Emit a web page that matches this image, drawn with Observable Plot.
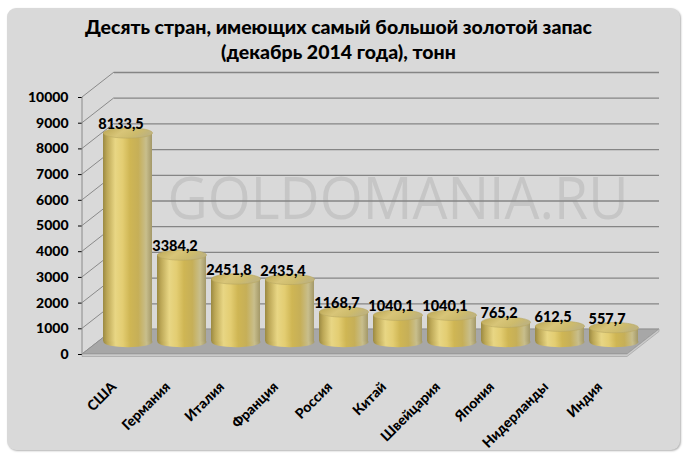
<!DOCTYPE html>
<html><head><meta charset="utf-8">
<script src="https://cdn.jsdelivr.net/npm/d3@7"></script>
<script src="https://cdn.jsdelivr.net/npm/@observablehq/plot@0.6"></script>
<style>
body{margin:0;background:#fff;}
#box{position:absolute;left:7px;top:8px;width:673px;height:442px;background:#d9d9d9;border-radius:9px;box-shadow:1px 1px 2px rgba(0,0,0,0.3);overflow:hidden;}
#title{height:57px;box-sizing:border-box;padding-top:6px;padding-right:10px;text-align:center;font:900 19.5px Lato, sans-serif;line-height:25px;color:#000;}
#chart svg{display:block;}
</style>
</head><body>
<div id="box"><div id="title"></div><div id="chart"></div></div>
<script>
const countries = ["США","Германия","Италия","Франция","Россия","Китай","Швейцария","Япония","Нидерланды","Индия"];
const reserves = [8133.5,3384.2,2451.8,2435.4,1168.7,1040.1,1040.1,765.2,612.5,557.7];
const yTicks = [0,1000,2000,3000,4000,5000,6000,7000,8000,9000,10000];
const titleLines = ["Десять стран, имеющих самый большой золотой запас","(декабрь 2014 года), тонн"];
const watermark = ["GOLDOMANIA.RU"];

document.getElementById("title").innerHTML = titleLines.map(t => `<div>${t}</div>`).join("");

const data = countries.map((c, i) => ({country: c, value: reserves[i]}));
const DX = 32, DY = -25;          // depth of the 3D box
const MX = DX / 2, MY = DY / 2;   // bars sit half way
const fmt = v => v.toFixed(1).replace(".", ",");
const FONT = "Lato, sans-serif";

function defsMark() {
  const g = d3.create("svg:g");
  const defs = g.append("defs");
  const body = defs.append("linearGradient").attr("id", "goldBody").attr("x1", 0).attr("x2", 1).attr("y1", 0).attr("y2", 0);
  [[0,"#9a8943"],[0.08,"#bca756"],[0.25,"#e8d684"],[0.4,"#e3cd72"],[0.55,"#cfb654"],[0.72,"#c6af58"],[0.88,"#c8be8c"],[1,"#a39868"]]
    .forEach(([o,c]) => body.append("stop").attr("offset", o).attr("stop-color", c));
  const top = defs.append("linearGradient").attr("id", "goldTop").attr("x1", 0).attr("x2", 1).attr("y1", 0).attr("y2", 0.3);
  [[0,"#b9a451"],[0.45,"#d8c578"],[0.75,"#cdbb6c"],[1,"#bfb37e"]]
    .forEach(([o,c]) => top.append("stop").attr("offset", o).attr("stop-color", c));
  return g.node();
}

function wallsMark(index, scales, values, dims) {
  const {marginLeft: ml, marginRight: mr, width} = dims;
  const x0 = ml, x1 = width - mr, y = scales.y;
  const g = d3.create("svg:g");
  for (const t of yTicks) {
    g.append("line").attr("x1", x0).attr("y1", y(t)).attr("x2", x0 + DX).attr("y2", y(t) + DY)
      .attr("stroke", "#8a8a8a").attr("stroke-width", 1);
  }
  g.append("line").attr("x1", x0).attr("x2", x0).attr("y1", y(0)).attr("y2", y(yTicks[yTicks.length - 1]))
    .attr("stroke", "#8a8a8a").attr("stroke-width", 1);
  const yb = y(0);
  g.append("path").attr("d", `M${x0},${yb}L${x1},${yb}L${x1+DX},${yb+DY}L${x0+DX},${yb+DY}Z`)
    .attr("fill", "#a7a7a7").attr("stroke", "#8c8c8c").attr("stroke-width", 0.8);
  g.append("path").attr("d", `M${x0},${yb}L${x1},${yb}L${x1+DX},${yb+DY}L${x1+DX},${yb+DY+2.5}L${x1},${yb+2.5}L${x0},${yb+2.5}Z`)
    .attr("fill", "#cacaca").attr("stroke", "#9a9a9a").attr("stroke-width", 0.6);
  return g.node();
}

const ellipse = {
  draw(context, size) {
    const rx = Math.sqrt(size / Math.PI), ry = rx * 0.21, k = 0.5523;
    context.moveTo(-rx, 0);
    context.bezierCurveTo(-rx, -ry * k, -rx * k, -ry, 0, -ry);
    context.bezierCurveTo(rx * k, -ry, rx, -ry * k, rx, 0);
    context.bezierCurveTo(rx, ry * k, rx * k, ry, 0, ry);
    context.bezierCurveTo(-rx * k, ry, -rx, ry * k, -rx, 0);
    context.closePath();
  }
};

const W = 673, H = 385;
const ML = 75, MR = 53, MT = 32, MB = 96;
const R = ((W - ML - MR) / countries.length) * 0.9 / 2;

const chart = Plot.plot({
  width: W, height: H,
  marginLeft: ML, marginRight: MR, marginTop: MT, marginBottom: MB,
  style: {background: "transparent", fontFamily: FONT, fontSize: "14px", fontWeight: "900", color: "#000", overflow: "visible"},
  x: {domain: countries, paddingInner: 0.1, paddingOuter: 0.05, axis: null},
  y: {domain: [0, 10000], ticks: yTicks, tickSize: 4, tickPadding: 10, tickFormat: d => String(d), label: null},
  marks: [
    defsMark,
    Plot.text(watermark, {frameAnchor: "middle", text: d => d, dx: 43, dy: -26, fontSize: 58, fontWeight: "normal", fontFamily: "Open Sans", fill: "#c6c6c6"}),
    Plot.ruleY(yTicks, {y: d => d, dx: DX, dy: DY, stroke: "#858585", strokeWidth: 1.3}),
    wallsMark,
    Plot.dot(data, {x: "country", y: () => 0, r: R, symbol: ellipse, fill: "url(#goldBody)", stroke: "none", dx: MX, dy: MY}),
    Plot.barY(data, {x: "country", y: "value", fill: "url(#goldBody)", dx: MX, dy: MY}),
    Plot.dot(data, {x: "country", y: "value", r: R, symbol: ellipse, fill: "url(#goldTop)", stroke: "#b8a862", strokeWidth: 0.6, dx: MX, dy: MY}),
    Plot.text(data, {x: "country", y: "value", text: d => fmt(d.value), dx: 9, dy: -21, lineAnchor: "middle", fontSize: 14.5, fontWeight: "900", fill: "#000"}),
    Plot.text(countries, {x: d => d, frameAnchor: "bottom", text: d => d, rotate: -45, textAnchor: "end", lineAnchor: "middle", dx: 2, dy: 30, fontSize: 14, fontWeight: "900", fill: "#000"})
  ]
});
document.getElementById("chart").appendChild(chart);
d3.select(chart).selectAll("text").filter(function() { return this.textContent === watermark[0]; })
  .attr("textLength", 461).attr("lengthAdjust", "spacingAndGlyphs");
</script>
</body></html>
